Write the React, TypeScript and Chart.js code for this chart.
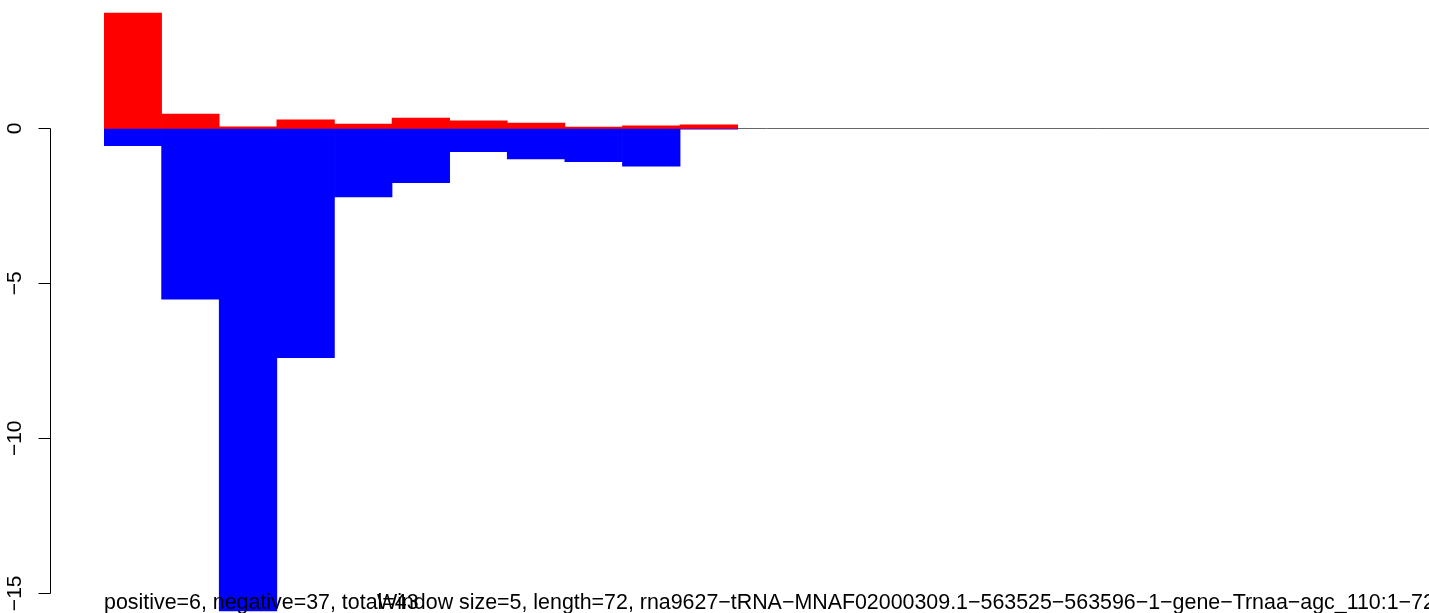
import React, { useEffect, useRef } from "react";
import { Chart, registerables } from "chart.js";

Chart.register(...registerables);

// ---- data ----
const windowLabels = [
  "1", "2", "3", "4", "5", "6", "7", "8", "9", "10", "11", "12",
  "13", "14", "15", "16", "17", "18", "19", "20", "21", "22", "23",
];
const positiveValues = [3.72, 0.46, 0.05, 0.27, 0.14, 0.33, 0.24, 0.17, 0.04, 0.08, 0.11];
const negativeValues = [-0.56, -5.51, -15.57, -7.4, -2.21, -1.75, -0.75, -0.99, -1.08, -1.22, -0.03];
const yTickValues = [0, -5, -10, -15];
const yTickLabels = ["0", "\u22125", "\u221210", "\u221215"];
const yMin = -15.635;
const yMax = 4.139;
const summaryText = "positive=6, negative=37, total=43";
const titleText =
  "Window size=5, length=72, rna9627\u2212tRNA\u2212MNAF02000309.1\u2212563525\u2212563596\u22121\u2212gene\u2212Trnaa\u2212agc_110:1\u221272";

const FONT = '21px "Liberation Sans", Arial, Helvetica, sans-serif';
const TEXT_FONT = '21.4px "Liberation Sans", Arial, Helvetica, sans-serif';

const rStylePlugin = {
  id: "rStyle",
  beforeDatasetsDraw(chart: any) {
    const { ctx, chartArea, scales } = chart;
    const y0 = Math.round(scales.y.getPixelForValue(0)) + 0.5;
    ctx.save();
    ctx.strokeStyle = "#666666";
    ctx.lineWidth = 1;
    ctx.beginPath();
    ctx.moveTo(chartArea.left, y0);
    ctx.lineTo(chartArea.right, y0);
    ctx.stroke();
    ctx.restore();
  },
  afterDraw(chart: any) {
    const { ctx, chartArea, scales } = chart;
    const y = scales.y;
    const axisX = 50.5;
    ctx.save();
    ctx.strokeStyle = "#000000";
    ctx.lineWidth = 1;
    const first = Math.round(y.getPixelForValue(yTickValues[0])) + 0.5;
    const last = Math.round(y.getPixelForValue(yTickValues[yTickValues.length - 1])) + 0.5;
    ctx.beginPath();
    ctx.moveTo(axisX, first);
    ctx.lineTo(axisX, last);
    yTickValues.forEach((v) => {
      const py = Math.round(y.getPixelForValue(v)) + 0.5;
      ctx.moveTo(axisX, py);
      ctx.lineTo(axisX - 12, py);
    });
    ctx.stroke();

    ctx.fillStyle = "#000000";
    ctx.font = FONT;
    yTickValues.forEach((v, i) => {
      const py = y.getPixelForValue(v);
      ctx.save();
      ctx.translate(21, py);
      ctx.rotate(-Math.PI / 2);
      ctx.textAlign = "center";
      ctx.textBaseline = "alphabetic";
      ctx.fillText(yTickLabels[i], 0, 0);
      ctx.restore();
    });

    ctx.font = TEXT_FONT;
    ctx.textAlign = "left";
    ctx.textBaseline = "alphabetic";
    ctx.fillText(summaryText, chartArea.left, 609);
    ctx.fillText(titleText, 377, 609);
    ctx.restore();
  },
};

export default function App() {
  const canvasRef = useRef<HTMLCanvasElement | null>(null);

  useEffect(() => {
    if (!canvasRef.current) return;
    const chart = new Chart(canvasRef.current, {
      type: "bar",
      data: {
        labels: windowLabels,
        datasets: [
          {
            label: "positive",
            data: positiveValues,
            backgroundColor: "#ff0000",
            borderWidth: 0,
            categoryPercentage: 1,
            barPercentage: 1,
          },
          {
            label: "negative",
            data: negativeValues,
            backgroundColor: "#0000ff",
            borderWidth: 0,
            categoryPercentage: 1,
            barPercentage: 1,
          },
        ],
      },
      options: {
        animation: false,
        responsive: false,
        layout: { padding: { left: 104, right: 0, top: 0, bottom: 0 } },
        plugins: {
          legend: { display: false },
          tooltip: { enabled: false },
          title: { display: false },
        },
        scales: {
          x: { type: "category", stacked: true, display: false, offset: true, grid: { display: false } },
          y: { stacked: true, display: false, min: yMin, max: yMax, grid: { display: false } },
        },
      },
      plugins: [rStylePlugin],
    });
    return () => chart.destroy();
  }, []);

  return (
    <div style={{ position: "absolute", left: 0, top: 0, width: 1429, height: 613, background: "#ffffff" }}>
      <canvas ref={canvasRef} width={1429} height={613} style={{ display: "block" }} />
    </div>
  );
}
